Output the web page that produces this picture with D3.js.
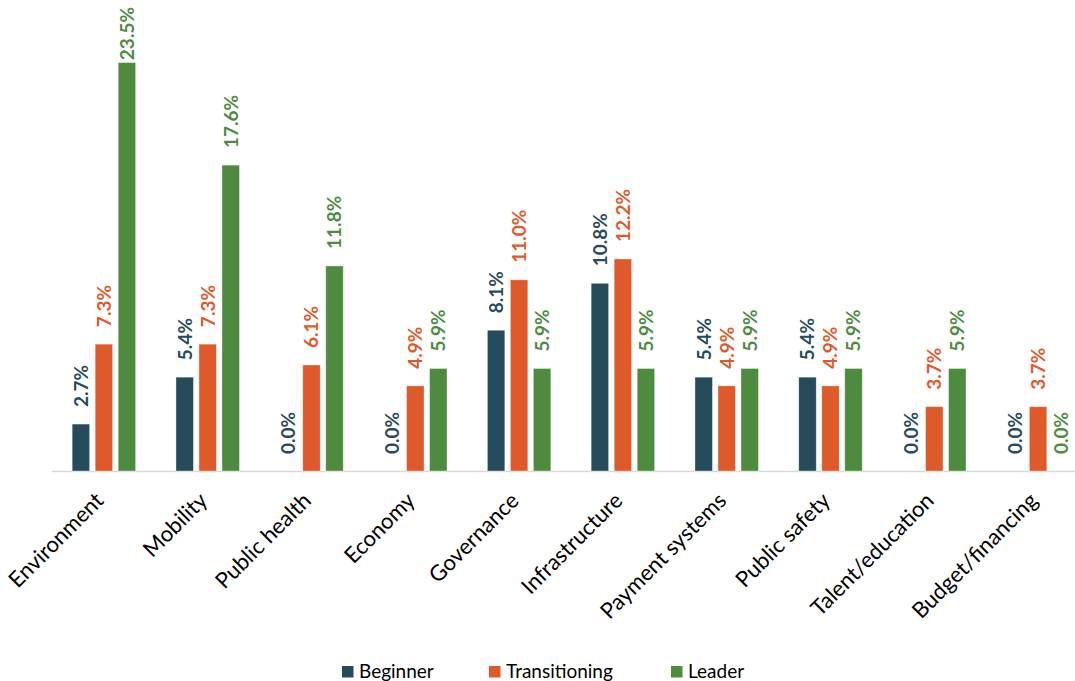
<!DOCTYPE html>
<html>
<head>
<meta charset="utf-8">
<script src="https://cdn.jsdelivr.net/npm/d3@7"></script>
<style>
  body { margin: 0; background: #fff; }
  svg { display: block; font-family: Lato, "Open Sans", sans-serif; }
</style>
</head>
<body>
<div id="chart"></div>
<script>
// chart values
var categories = ["Environment", "Mobility", "Public health", "Economy", "Governance",
    "Infrastructure", "Payment systems", "Public safety", "Talent/education", "Budget/financing"];
var seriesNames = ["Beginner", "Transitioning", "Leader"];
var beginner = [2.7, 5.4, 0.0, 0.0, 8.1, 10.8, 5.4, 5.4, 0.0, 0.0];
var transitioning = [7.3, 7.3, 6.1, 4.9, 11.0, 12.2, 4.9, 4.9, 3.7, 3.7];
var leader = [23.5, 17.6, 11.8, 5.9, 5.9, 5.9, 5.9, 5.9, 5.9, 0.0];
var seriesColors = ["#264b5a", "#de5a2b", "#4e8b3f"];

var width = 1075,
    height = 681,
    baseline = 471;

var values = [beginner, transitioning, leader];

var svg = d3.select("#chart").append("svg")
    .attr("width", width)
    .attr("height", height);

var x0 = d3.scaleBand()
    .domain(categories)
    .range([52, 1090]);

var x1 = d3.scaleBand()
    .domain(seriesNames)
    .range([0, x0.bandwidth()])
    .paddingInner(0.24)
    .paddingOuter(0.876);

var y = d3.scaleLinear()
    .domain([0, 25])
    .range([baseline, baseline - 25 * 17.38]);

var color = d3.scaleOrdinal().domain(seriesNames).range(seriesColors);

// flatten to one record per bar
var rows = [];
categories.forEach(function (c, i) {
    seriesNames.forEach(function (s, j) {
        rows.push({ category: c, series: s, value: values[j][i] });
    });
});

// axis line
svg.append("line")
    .attr("x1", x0.range()[0])
    .attr("x2", width)
    .attr("y1", baseline + 0.5)
    .attr("y2", baseline + 0.5)
    .attr("stroke", "#d9d9d9")
    .attr("stroke-width", 1.5);

var gBars = svg.append("g").attr("class", "g-bars");
gBars.selectAll("rect")
    .data(rows.filter(function (d) { return d.value > 0; }))
    .enter().append("rect")
    .attr("x", function (d) { return x0(d.category) + x1(d.series); })
    .attr("y", function (d) { return y(d.value); })
    .attr("width", x1.bandwidth())
    .attr("height", function (d) { return baseline - y(d.value); })
    .attr("fill", function (d) { return color(d.series); })
    .attr("stroke", "#ffffff")
    .attr("stroke-opacity", 0.5)
    .attr("stroke-width", 0.75);

// value labels, rotated, sitting above the bars
var gLabels = svg.append("g").attr("class", "g-labels");
gLabels.selectAll("text")
    .data(rows)
    .enter().append("text")
    .attr("font-size", "19px")
    .attr("font-weight", "bold")
    .attr("fill", function (d) { return color(d.series); })
    .attr("dy", "0.36em")
    .text(function (d) { return d.value.toFixed(1) + "%"; })
    .each(function (d) {
        var len = this.getComputedTextLength();
        var cx = x0(d.category) + x1(d.series) + x1.bandwidth() / 2;
        var start = Math.max(y(d.value) - 17, 7 + len); // keep the tallest label inside the chart
        d3.select(this).attr("transform", "translate(" + cx + "," + start + ") rotate(-90)");
    });

// category labels
var gCats = svg.append("g").attr("class", "g-categories");
gCats.selectAll("text")
    .data(categories)
    .enter().append("text")
    .attr("font-size", "22px")
    .attr("fill", "#000")
    .attr("text-anchor", "end")
    .attr("transform", function (d) {
        return "translate(" + (x0(d) + x0.bandwidth() / 2 + 1) + "," + (baseline + 31) + ") rotate(-45)";
    })
    .text(function (d) { return d; });

// legend
var legendX = [342, 489, 671];
var gLegend = svg.append("g").attr("class", "g-legend");
var items = gLegend.selectAll("g")
    .data(seriesNames)
    .enter().append("g")
    .attr("transform", function (d, i) { return "translate(" + legendX[i] + ",666)"; });
items.append("rect")
    .attr("width", 11.5)
    .attr("height", 11.5)
    .attr("fill", function (d) { return color(d); });
items.append("text")
    .attr("x", 17)
    .attr("y", 12)
    .attr("font-size", "19px")
    .attr("fill", "#000")
    .text(function (d) { return d; });
</script>
</body>
</html>
